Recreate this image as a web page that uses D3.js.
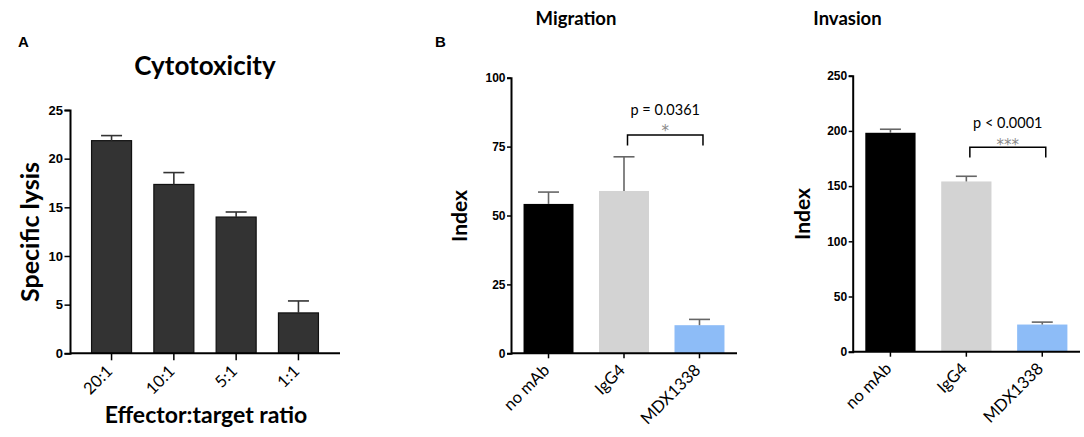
<!DOCTYPE html>
<html><head><meta charset="utf-8">
<script src="https://cdn.jsdelivr.net/npm/d3@7"></script>
<style>
body{margin:0;background:#fff;}
svg{display:block;}
</style></head>
<body>
<script>
// ---- Data ----
const cytoCategories = ["20:1", "10:1", "5:1", "1:1"];
const cytoValues = [21.85, 17.35, 14.0, 4.15];
const cytoErrors = [0.52, 1.22, 0.52, 1.23];
const cytoTicks = [0, 5, 10, 15, 20, 25];

const groupCategories = ["no mAb", "IgG4", "MDX1338"];
const migrationValues = [54.2, 58.9, 10.2];
const migrationErrors = [4.3, 12.4, 2.1];
const migrationTicks = [0, 25, 50, 75, 100];

const invasionValues = [198.3, 154.2, 24.6];
const invasionErrors = [3.2, 4.7, 2.2];
const invasionTicks = [0, 50, 100, 150, 200, 250];

const groupColors = ["#000000", "#d3d3d3", "#8dbcf7"];

const migrationStat = {from: "IgG4", to: "MDX1338", label: "p = 0.0361", stars: "*", bracketTop: 79.2, bracketLeg: 75.4, labelY: 86.3, starsY: 81.2};
const invasionStat = {from: "IgG4", to: "MDX1338", label: "p < 0.0001", stars: "***", bracketTop: 185.1, bracketLeg: 175.8, labelY: 202.5, starsY: 188.5};

// ---- Drawing ----
const W = 1084, H = 437;
const svg = d3.select("body").append("svg").attr("width", W).attr("height", H);
const titleFont = "Lato, 'Open Sans', sans-serif";
const tickFont = "'Liberation Sans', Arial, sans-serif";

function panel(opt) {
  const g = svg.append("g");
  const x = d3.scaleBand().domain(opt.categories).range([opt.x0, opt.x1])
    .paddingInner(opt.pi).paddingOuter(opt.po);
  const y = d3.scaleLinear().domain([0, opt.max]).range([opt.y0, opt.y1]);

  // bars
  g.selectAll("rect.bar").data(opt.values).join("rect")
    .attr("class", "bar")
    .attr("x", (d, i) => x(opt.categories[i]))
    .attr("width", x.bandwidth())
    .attr("y", d => y(d))
    .attr("height", d => y(0) - y(d))
    .attr("fill", (d, i) => opt.colors[i])
    .attr("stroke", opt.barStroke || "none")
    .attr("stroke-width", opt.barStroke ? 1.2 : 0);

  // error bars (upward only)
  const eg = g.append("g").attr("stroke", opt.errColor).attr("stroke-width", 1.6).attr("fill", "none");
  opt.values.forEach((v, i) => {
    const cx = x(opt.categories[i]) + x.bandwidth() / 2;
    const top = y(v + opt.errors[i]);
    eg.append("line").attr("x1", cx).attr("x2", cx).attr("y1", y(v)).attr("y2", top);
    eg.append("line").attr("x1", cx - opt.cap).attr("x2", cx + opt.cap).attr("y1", top).attr("y2", top);
  });

  // y axis
  const ya = g.append("g").attr("transform", `translate(${opt.x0},0)`)
    .call(d3.axisLeft(y).tickValues(opt.ticks).tickSizeOuter(0).tickSize(opt.ytick).tickPadding(1.5));
  ya.select(".domain").attr("stroke", "#000").attr("stroke-width", 2);
  ya.selectAll(".tick line").attr("stroke", "#000").attr("stroke-width", 1.5);
  ya.selectAll(".tick text").attr("font-family", tickFont).attr("font-weight", "bold")
    .attr("font-size", opt.tickFs).attr("fill", "#000");

  // x axis
  const xa = g.append("g").attr("transform", `translate(0,${opt.y0})`)
    .call(d3.axisBottom(x).tickSizeOuter(0).tickSize(opt.xtick));
  xa.select(".domain").attr("d", `M${opt.x0},0H${opt.xEnd}`).attr("stroke", "#000").attr("stroke-width", 2);
  xa.selectAll(".tick line").attr("stroke", "#000").attr("stroke-width", 1.5);
  xa.selectAll(".tick text")
    .attr("x", 0).attr("y", 0).attr("dy", 0)
    .attr("text-anchor", "end")
    .attr("transform", `translate(${opt.lblDx},${opt.lblDy}) rotate(-45)`)
    .attr("font-family", titleFont).attr("font-size", opt.xFs).attr("fill", "#000");

  // y label
  g.append("text")
    .attr("transform", `translate(${opt.ylabX},${opt.ylabY}) rotate(-90)`)
    .attr("text-anchor", "middle")
    .attr("font-family", titleFont).attr("font-weight", "bold")
    .attr("font-size", opt.ylabFs).text(opt.ylabel);

  // x label
  if (opt.xlabel) {
    g.append("text").attr("x", opt.xlabX).attr("y", opt.xlabY)
      .attr("text-anchor", "middle").attr("font-family", titleFont)
      .attr("font-weight", "bold").attr("font-size", opt.xlabFs).text(opt.xlabel);
  }

  // title
  g.append("text").attr("x", opt.titleX).attr("y", opt.titleY)
    .attr("text-anchor", "middle").attr("font-family", titleFont)
    .attr("font-weight", "bold").attr("font-size", opt.titleFs).text(opt.title);

  // stats bracket
  if (opt.stat) {
    const s = opt.stat;
    const xa1 = x(s.from) + x.bandwidth() / 2 + 3.5;
    const xa2 = x(s.to) + x.bandwidth() / 2 + 3.5;
    g.append("path")
      .attr("d", `M${xa1},${y(s.bracketLeg)}V${y(s.bracketTop)}H${xa2}V${y(s.bracketLeg)}`)
      .attr("fill", "none").attr("stroke", "#000").attr("stroke-width", 1.5);
    const cxm = (xa1 + xa2) / 2;
    g.append("text").attr("x", cxm).attr("y", y(s.labelY)).attr("text-anchor", "middle")
      .attr("font-family", titleFont).attr("font-size", 14.5).attr("fill", "#000").text(s.label);
    g.append("text").attr("x", cxm).attr("y", y(s.starsY) + 6).attr("text-anchor", "middle")
      .attr("font-family", "'DejaVu Sans', sans-serif").attr("font-size", 15).attr("fill", "#888").text(s.stars);
  }
  return g;
}

panel({
  categories: cytoCategories, values: cytoValues, errors: cytoErrors, ticks: cytoTicks,
  colors: cytoCategories.map(() => "#333333"), barStroke: "#111",
  max: 25, x0: 70, x1: 340, xEnd: 340, y0: 353.3, y1: 110,
  pi: 0.358, po: 0.346, cap: 10.5, errColor: "#333",
  ytick: 5.5, xtick: 7, tickFs: 13, xFs: 16.5, lblDx: 2, lblDy: 19,
  ylabel: "Specific lysis", ylabX: 39, ylabY: 232, ylabFs: 25,
  xlabel: "Effector:target ratio", xlabX: 206, xlabY: 423, xlabFs: 23,
  title: "Cytotoxicity", titleX: 205, titleY: 75, titleFs: 26
});

panel({
  categories: groupCategories, values: migrationValues, errors: migrationErrors, ticks: migrationTicks,
  colors: groupColors, max: 100, x0: 511, x1: 737, xEnd: 737, y0: 353.3, y1: 77.7,
  pi: 0.338, po: 0.166, cap: 10.5, errColor: "#666",
  ytick: 4, xtick: 5, tickFs: 12, xFs: 16.5, lblDx: 2, lblDy: 18,
  ylabel: "Index", ylabX: 467, ylabY: 216, ylabFs: 21,
  title: "Migration", titleX: 576, titleY: 25, titleFs: 18.5,
  stat: migrationStat
});

panel({
  categories: groupCategories, values: invasionValues, errors: invasionErrors, ticks: invasionTicks,
  colors: groupColors, max: 250, x0: 852.7, x1: 1080, xEnd: 1080, y0: 351.7, y1: 75.7,
  pi: 0.338, po: 0.166, cap: 10.5, errColor: "#666",
  ytick: 4, xtick: 5, tickFs: 12, xFs: 16.5, lblDx: 2, lblDy: 18,
  ylabel: "Index", ylabX: 810, ylabY: 214, ylabFs: 21,
  title: "Invasion", titleX: 847.5, titleY: 25, titleFs: 18.5,
  stat: invasionStat
});

// panel letters
svg.append("text").attr("x", 18).attr("y", 47).attr("font-family", tickFont)
  .attr("font-weight", "bold").attr("font-size", 15).text("A");
svg.append("text").attr("x", 435).attr("y", 47).attr("font-family", tickFont)
  .attr("font-weight", "bold").attr("font-size", 15).text("B");
</script>
</body></html>
